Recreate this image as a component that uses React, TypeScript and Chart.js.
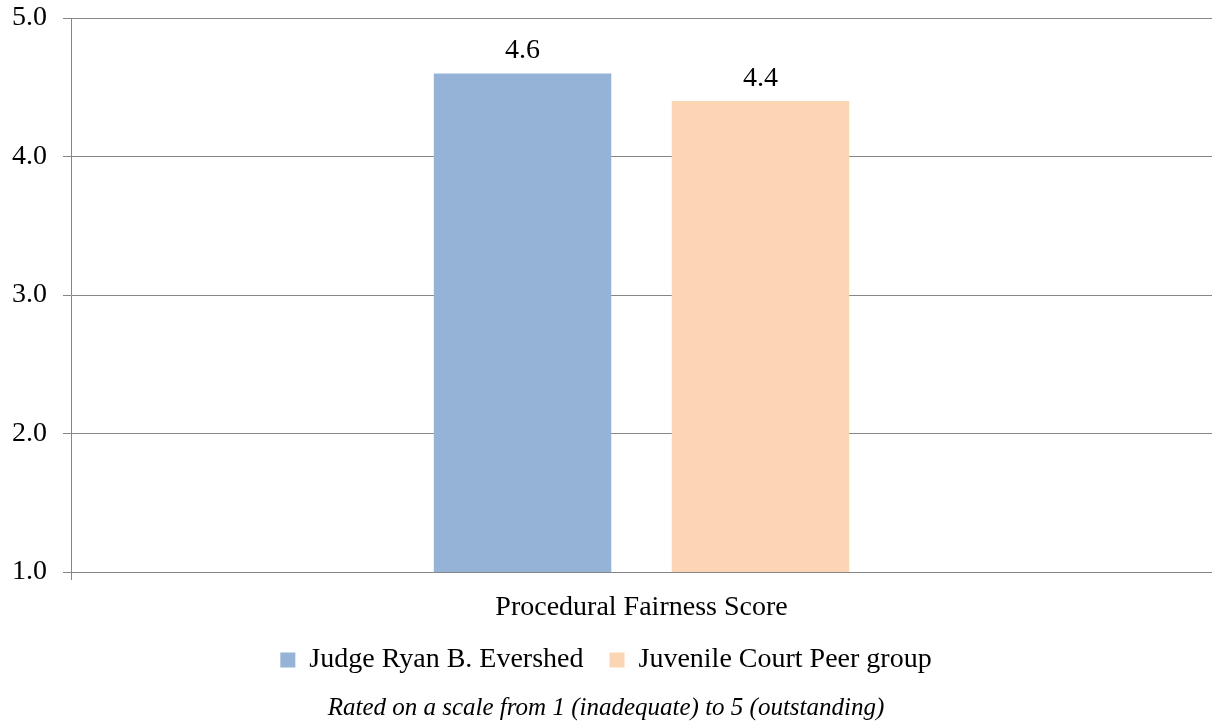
import React, { useEffect, useRef } from "react";
import { Chart, registerables } from "chart.js";

Chart.register(...registerables);

const categories = ["Procedural Fairness Score"];
const seriesNames = ["Judge Ryan B. Evershed", "Juvenile Court Peer group"];
const judgeValues = [4.6];
const peerValues = [4.4];
const yTicks = [1, 2, 3, 4, 5];
const footerText = "Rated on a scale from 1 (inadequate) to 5 (outstanding)";

const FONT = "'Liberation Serif', 'Times New Roman', serif";
const GRID = "#868686";

const valueLabels = {
  id: "valueLabels",
  afterDatasetsDraw(chart: any) {
    const ctx = chart.ctx;
    ctx.save();
    ctx.font = `28px ${FONT}`;
    ctx.fillStyle = "#000";
    ctx.textAlign = "center";
    ctx.textBaseline = "alphabetic";
    chart.data.datasets.forEach((ds: any, i: number) => {
      const meta = chart.getDatasetMeta(i);
      meta.data.forEach((bar: any, j: number) => {
        ctx.fillText(Number(ds.data[j]).toFixed(1), bar.x, bar.y - 15);
      });
    });
    ctx.restore();
  },
};

export default function App() {
  const ref = useRef<HTMLCanvasElement | null>(null);
  useEffect(() => {
    if (!ref.current) return;
    const chart = new Chart(ref.current, {
      type: "bar",
      data: {
        labels: categories,
        datasets: [
          {
            label: seriesNames[0],
            data: judgeValues,
            backgroundColor: "#95B3D7",
            categoryPercentage: 0.417,
            barPercentage: 0.746,
          },
          {
            label: seriesNames[1],
            data: peerValues,
            backgroundColor: "#FCD5B5",
            categoryPercentage: 0.417,
            barPercentage: 0.746,
          },
        ],
      },
      options: {
        animation: false,
        responsive: true,
        maintainAspectRatio: false,
        layout: { padding: { top: 18, right: 0, left: 0, bottom: 0 } },
        scales: {
          x: {
            afterFit: (scale: any) => {
              scale.height = 48;
            },
            grid: {
              display: true,
              drawOnChartArea: false,
              drawTicks: true,
              tickLength: 8,
              color: GRID,
              offset: true,
            },
            border: { display: true, color: GRID },
            ticks: {
              color: "#000",
              font: { family: FONT, size: 28, lineHeight: 1 },
              padding: 14,
            },
          },
          y: {
            min: 1,
            max: 5,
            afterFit: (scale: any) => {
              scale.width = 71;
              scale.paddingTop = 0;
              scale.paddingBottom = 0;
            },
            afterBuildTicks: (scale: any) => {
              scale.ticks = yTicks.map((v) => ({ value: v }));
            },
            grid: {
              color: GRID,
              tickLength: 8,
              drawTicks: true,
            },
            border: { display: true, color: GRID },
            ticks: {
              color: "#000",
              font: { family: FONT, size: 28 },
              padding: 16,
              callback: (v: any) => Number(v).toFixed(1),
            },
          },
        },
        plugins: {
          legend: {
            position: "bottom",
            labels: {
              color: "#000",
              font: { family: FONT, size: 28 },
              boxWidth: 15,
              boxHeight: 15,
              padding: 26,
            },
          },
          title: {
            display: true,
            position: "bottom",
            text: footerText,
            color: "#000",
            font: { family: FONT, size: 25, style: "italic", weight: "normal", lineHeight: 1.2 },
            padding: { top: 9.6, bottom: 1.4 },
          },
          tooltip: { enabled: false },
        },
      },
      plugins: [valueLabels],
    });
    return () => chart.destroy();
  }, []);
  return (
    <div style={{ position: "fixed", left: 0, top: 0, width: 1212, height: 725, background: "#fff" }}>
      <canvas ref={ref} />
    </div>
  );
}
